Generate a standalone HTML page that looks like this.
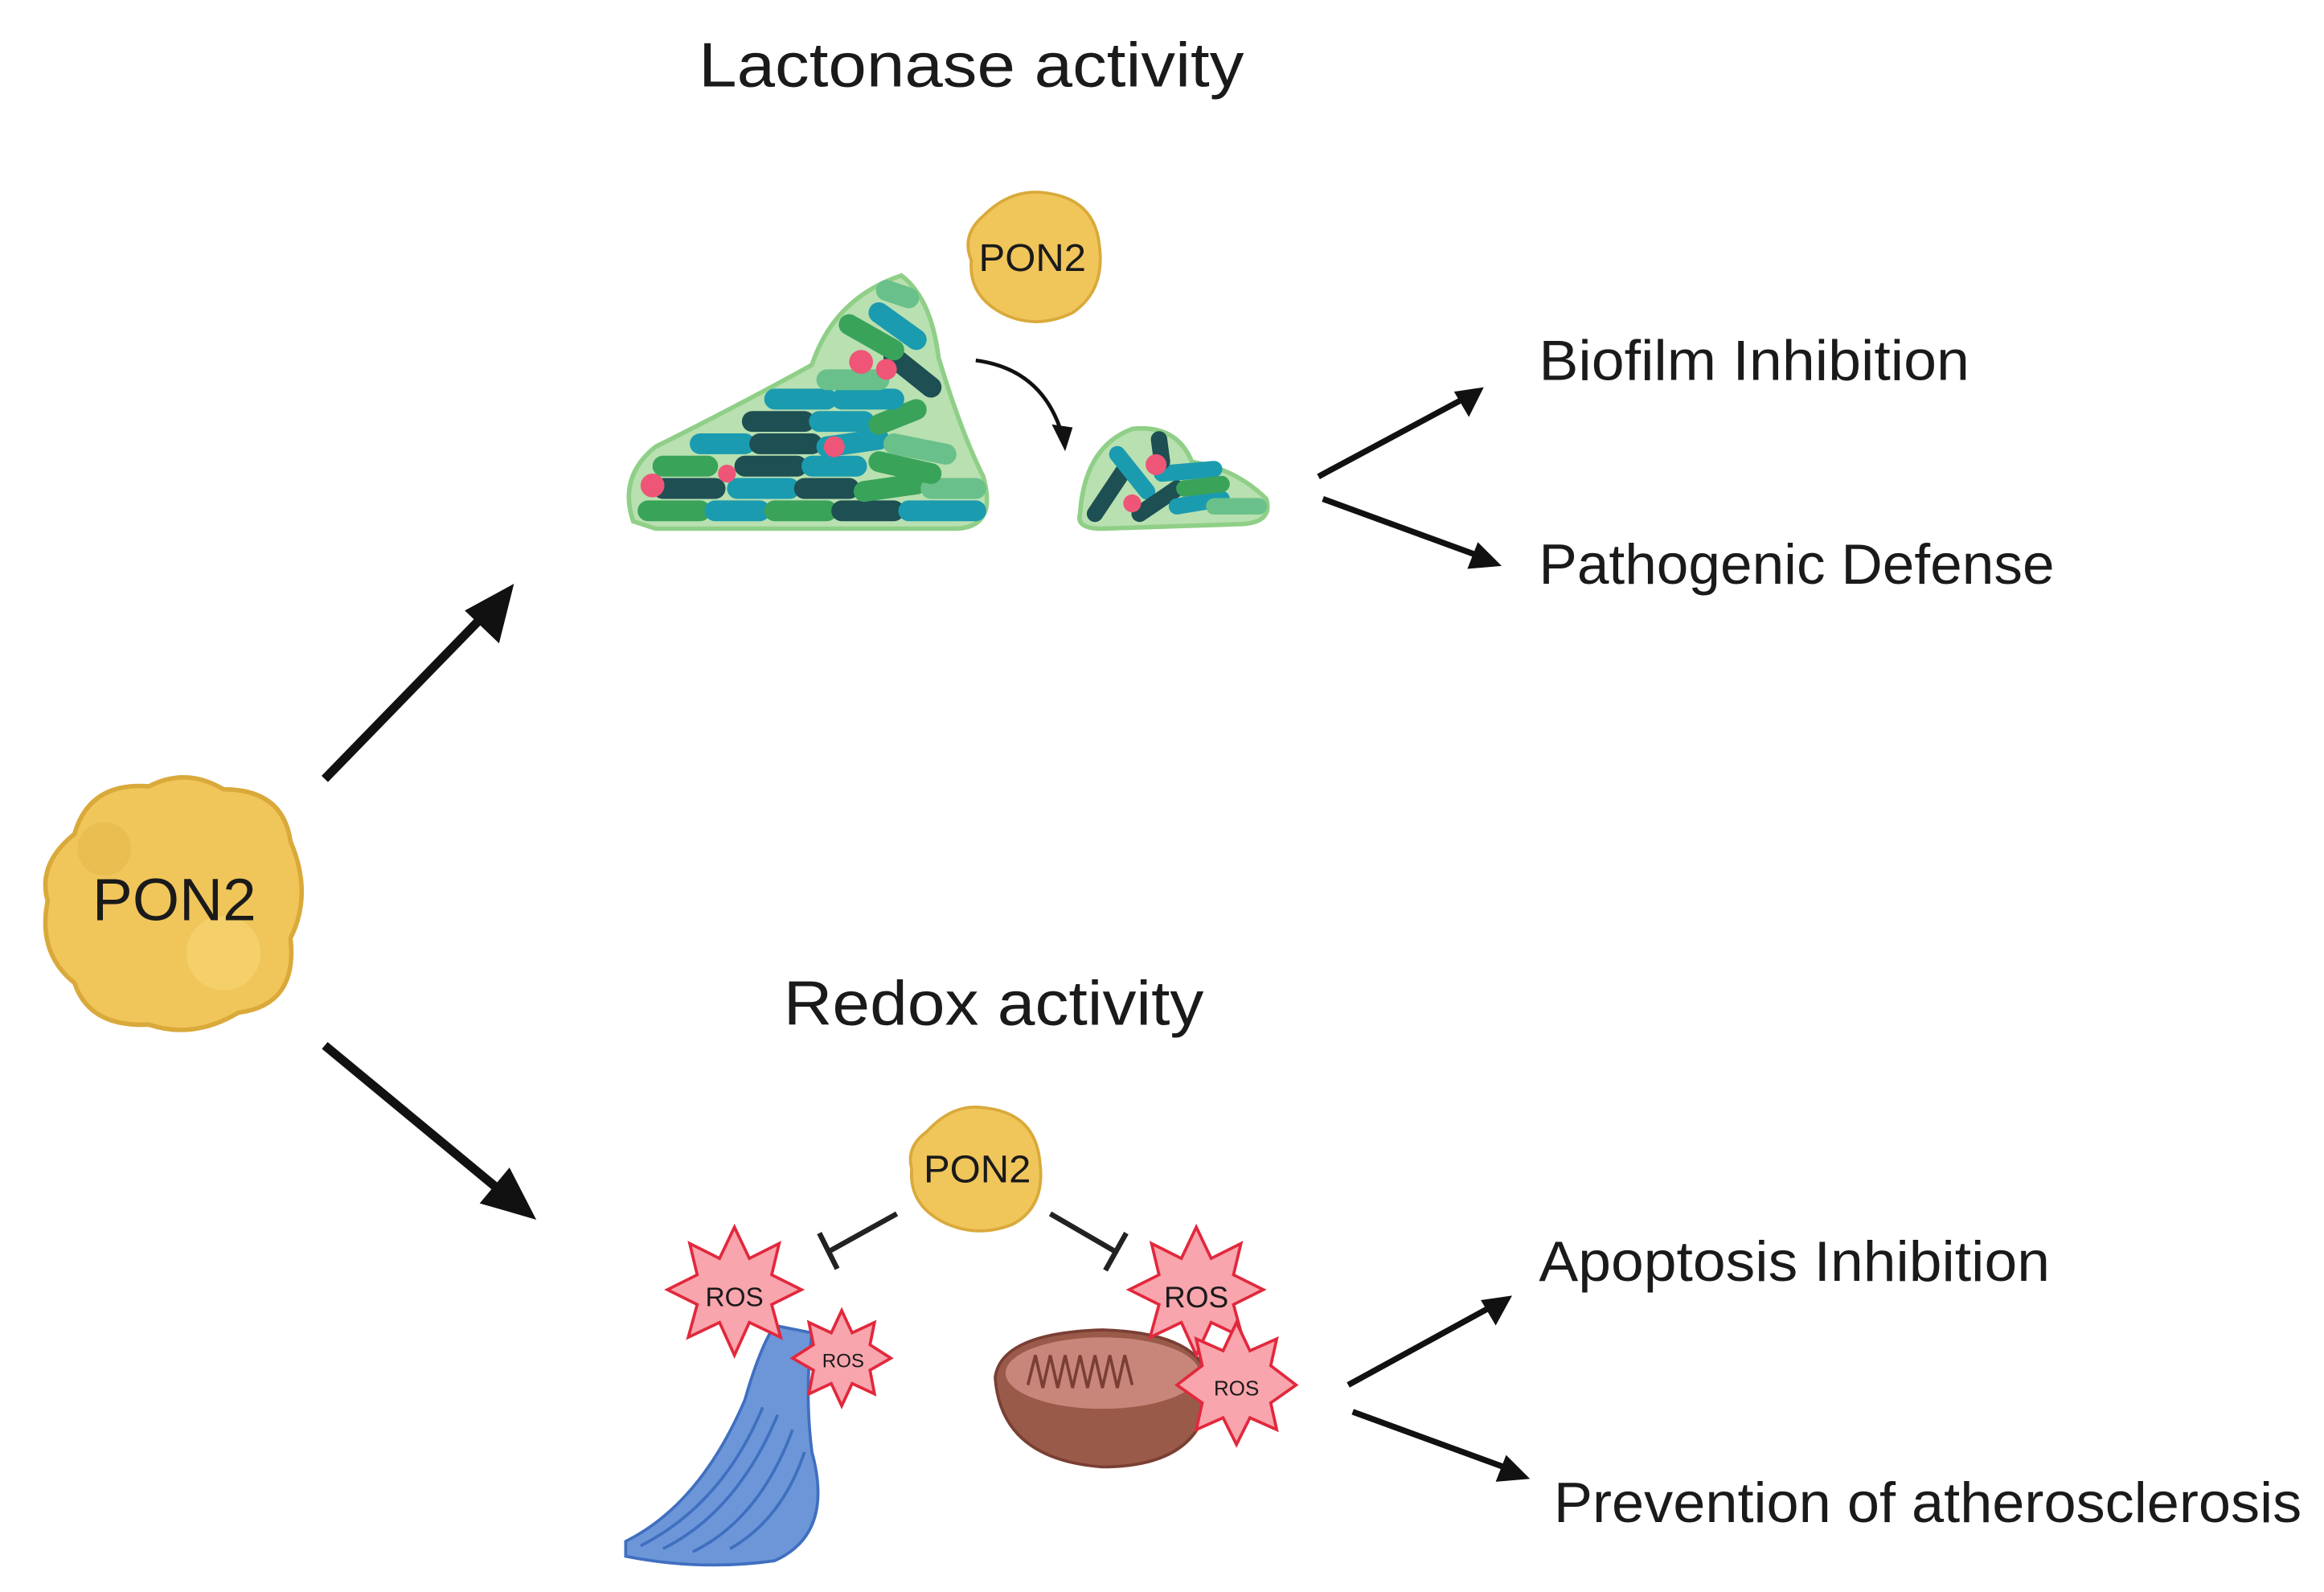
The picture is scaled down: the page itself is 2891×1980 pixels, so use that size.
<!DOCTYPE html>
<html><head><style>html,body{margin:0;padding:0;background:#fff}svg{display:block}</style></head>
<body>
<svg width="2891" height="1980" viewBox="0 0 1560 1069" preserveAspectRatio="none" xmlns="http://www.w3.org/2000/svg" font-family="Liberation Sans, sans-serif">
<rect width="1560" height="1069" fill="#fff"/>
<g fill="#1a1a1a" lengthAdjust="spacingAndGlyphs">
<text x="652" y="58" font-size="42" text-anchor="middle" textLength="366" lengthAdjust="spacingAndGlyphs">Lactonase activity</text>
<text x="667" y="688" font-size="42" text-anchor="middle" textLength="282" lengthAdjust="spacingAndGlyphs">Redox activity</text>
<text x="1033" y="255" font-size="38" textLength="289" lengthAdjust="spacingAndGlyphs">Biofilm Inhibition</text>
<text x="1033" y="392" font-size="38" textLength="346" lengthAdjust="spacingAndGlyphs">Pathogenic Defense</text>
<text x="1033" y="860" font-size="38" textLength="343" lengthAdjust="spacingAndGlyphs">Apoptosis Inhibition</text>
<text x="1043" y="1022" font-size="38" textLength="502" lengthAdjust="spacingAndGlyphs">Prevention of atherosclerosis</text>
</g>
<g>
<path d="M50,560 Q60,525 100,528 Q125,515 150,530 Q190,530 195,565 Q210,600 195,630 Q200,675 160,680 Q130,698 100,688 Q60,690 50,660 Q25,640 32,605 Q25,580 50,560 z" fill="#f0c55a" stroke="#d9a93a" stroke-width="3"/>
<circle cx="150" cy="640" r="25" fill="#f4cf6a"/><circle cx="70" cy="570" r="18" fill="#e9bd50"/>
<text x="117" y="618" font-size="40" text-anchor="middle" fill="#1a1a1a" textLength="110" lengthAdjust="spacingAndGlyphs">PON2</text>
</g>
<g stroke="#111" stroke-width="6">
<line x1="218" y1="523" x2="325" y2="413"/>
<line x1="218" y1="702" x2="340" y2="803"/>
</g>
<path d="M345,392 L335,432 L312,410 z" fill="#111"/>
<path d="M360,819 L322,808 L342,784 z" fill="#111"/>
<path d="M425,350 Q415,320 440,300 Q500,270 545,245 Q560,200 605,185 Q625,200 630,240 Q645,290 660,320 Q670,355 640,355 L440,355 z" fill="#b9e0b0" stroke="#8fcf87" stroke-width="3"/>
<g stroke-linecap="round" stroke-width="14">
<line x1="435" y1="343" x2="470" y2="343" stroke="#3aa35a"/><line x1="480" y1="343" x2="510" y2="343" stroke="#1b9bb0"/><line x1="520" y1="343" x2="555" y2="343" stroke="#3aa35a"/><line x1="565" y1="343" x2="600" y2="343" stroke="#1d4f53"/><line x1="610" y1="343" x2="655" y2="343" stroke="#1b9bb0"/>
<line x1="445" y1="328" x2="480" y2="328" stroke="#1d4f53"/><line x1="495" y1="328" x2="530" y2="328" stroke="#1b9bb0"/><line x1="540" y1="328" x2="570" y2="328" stroke="#1d4f53"/><line x1="580" y1="330" x2="615" y2="325" stroke="#3aa35a"/><line x1="625" y1="328" x2="655" y2="328" stroke="#69c08a"/>
<line x1="445" y1="313" x2="475" y2="313" stroke="#3aa35a"/><line x1="500" y1="313" x2="535" y2="313" stroke="#1d4f53"/><line x1="545" y1="313" x2="575" y2="313" stroke="#1b9bb0"/><line x1="590" y1="310" x2="625" y2="318" stroke="#3aa35a"/>
<line x1="470" y1="298" x2="500" y2="298" stroke="#1b9bb0"/><line x1="510" y1="298" x2="545" y2="298" stroke="#1d4f53"/><line x1="555" y1="300" x2="590" y2="295" stroke="#1b9bb0"/><line x1="600" y1="298" x2="635" y2="305" stroke="#69c08a"/>
<line x1="505" y1="283" x2="540" y2="283" stroke="#1d4f53"/><line x1="550" y1="283" x2="580" y2="283" stroke="#1b9bb0"/><line x1="590" y1="285" x2="615" y2="275" stroke="#3aa35a"/>
<line x1="520" y1="268" x2="555" y2="268" stroke="#1b9bb0"/><line x1="565" y1="268" x2="600" y2="268" stroke="#1b9bb0"/>
<line x1="555" y1="255" x2="590" y2="255" stroke="#69c08a"/><line x1="600" y1="240" x2="625" y2="260" stroke="#1d4f53"/>
<line x1="570" y1="218" x2="600" y2="235" stroke="#3aa35a"/><line x1="590" y1="210" x2="615" y2="228" stroke="#1b9bb0"/><line x1="595" y1="195" x2="610" y2="200" stroke="#69c08a"/>
</g>
<g fill="#ee5577"><circle cx="438" cy="326" r="8"/><circle cx="488" cy="318" r="6"/><circle cx="560" cy="300" r="7"/><circle cx="578" cy="243" r="8"/><circle cx="595" cy="248" r="7"/></g>
<path d="M725,345 Q728,300 760,288 Q790,285 800,310 Q830,315 850,335 Q855,352 830,352 L740,355 Q722,355 725,345 z" fill="#b9e0b0" stroke="#8fcf87" stroke-width="3"/>
<g stroke-linecap="round" stroke-width="11">
<line x1="735" y1="345" x2="755" y2="315" stroke="#1d4f53"/><line x1="750" y1="305" x2="770" y2="330" stroke="#1b9bb0"/><line x1="765" y1="345" x2="790" y2="328" stroke="#1d4f53"/><line x1="790" y1="340" x2="820" y2="335" stroke="#1b9bb0"/><line x1="815" y1="340" x2="845" y2="340" stroke="#69c08a"/><line x1="780" y1="318" x2="815" y2="315" stroke="#1b9bb0"/><line x1="778" y1="295" x2="780" y2="310" stroke="#1d4f53"/><line x1="795" y1="328" x2="820" y2="325" stroke="#3aa35a"/>
</g>
<g fill="#ee5577"><circle cx="776" cy="312" r="7"/><circle cx="760" cy="338" r="6"/></g>
<path d="M660,145 Q680,125 705,130 Q735,135 738,165 Q742,195 720,210 Q695,222 672,210 Q650,198 652,175 Q645,158 660,145 z" fill="#f0c55a" stroke="#d9a93a" stroke-width="2"/>
<text x="693" y="182" font-size="26" text-anchor="middle" fill="#1a1a1a" textLength="72" lengthAdjust="spacingAndGlyphs">PON2</text>
<path d="M655,242 Q700,248 713,292" fill="none" stroke="#111" stroke-width="2.5"/>
<path d="M715,303 L706,285 L720,287 z" fill="#111"/>
<g stroke="#111" stroke-width="4">
<line x1="885" y1="320" x2="982" y2="268"/><line x1="888" y1="335" x2="992" y2="373"/>
<line x1="905" y1="930" x2="1000" y2="878"/><line x1="908" y1="948" x2="1012" y2="986"/>
</g>
<path d="M996,260 L986,280 L976,263 z" fill="#111"/>
<path d="M1008,380 L985,382 L992,364 z" fill="#111"/>
<path d="M1015,870 L1004,890 L994,873 z" fill="#111"/>
<path d="M1027,993 L1004,995 L1011,977 z" fill="#111"/>
<path d="M622,760 Q640,740 662,744 Q695,748 698,780 Q702,810 680,822 Q655,832 632,820 Q610,808 612,785 Q608,770 622,760 z" fill="#f0c55a" stroke="#d9a93a" stroke-width="2"/>
<text x="656" y="794" font-size="26" text-anchor="middle" fill="#1a1a1a" textLength="72" lengthAdjust="spacingAndGlyphs">PON2</text>
<g stroke="#222" stroke-width="3.5">
<line x1="602" y1="815" x2="557" y2="840"/><line x1="550" y1="828" x2="562" y2="852"/>
<line x1="705" y1="815" x2="748" y2="840"/><line x1="756" y1="828" x2="742" y2="853"/>
</g>
<g fill="#6d96d8" stroke="#3f6fc0" stroke-width="2">
<path d="M420,1035 Q470,1010 500,940 Q510,905 520,890 L545,895 Q540,935 545,975 Q560,1030 520,1048 Q470,1055 420,1045 z"/>
</g>
<g stroke="#3f6fc0" stroke-width="2" fill="none">
<path d="M430,1038 Q485,1010 512,945"/><path d="M445,1040 Q495,1015 522,950"/><path d="M465,1042 Q510,1020 532,960"/><path d="M490,1040 Q525,1020 540,975"/>
</g>
<path d="M668,925 Q672,895 740,893 Q808,895 812,930 Q810,985 740,985 Q672,980 668,925 z" fill="#9a5a4a" stroke="#7a3f33" stroke-width="2"/>
<ellipse cx="740" cy="922" rx="65" ry="24" fill="#c8867a"/>
<path d="M690,930 l5,-20 l5,22 l5,-22 l5,22 l5,-22 l5,22 l5,-22 l5,22 l5,-22 l5,22 l5,-22 l5,22 l5,-22 l5,20" fill="none" stroke="#7a3f33" stroke-width="2"/>
<g fill="#f8a5ad" stroke="#e2283c" stroke-width="2">
<polygon points="493,824 503,845 523,835 518,856 538,866 518,876 524,898 503,888 493,910 483,888 462,898 468,876 448,866 468,856 463,835 483,845"/>
<polygon points="565,880 572,895 587,888 584,903 598,912 584,920 587,936 572,929 565,944 558,929 543,936 546,920 532,912 546,903 543,888 558,895"/>
<polygon points="803,824 813,845 833,835 828,856 848,866 828,876 834,898 813,888 803,910 793,888 772,898 778,876 758,866 778,856 773,835 793,845"/>
<polygon points="830,888 839,907 857,899 853,917 870,930 853,942 857,960 839,952 830,970 821,952 803,960 807,942 790,930 807,917 803,899 821,907"/>
</g>
<g fill="#1a1a1a" text-anchor="middle">
<text x="493" y="877" font-size="18">ROS</text>
<text x="566" y="918" font-size="13">ROS</text>
<text x="803" y="878" font-size="20">ROS</text>
<text x="830" y="937" font-size="14">ROS</text>
</g>
</svg>
</body></html>
